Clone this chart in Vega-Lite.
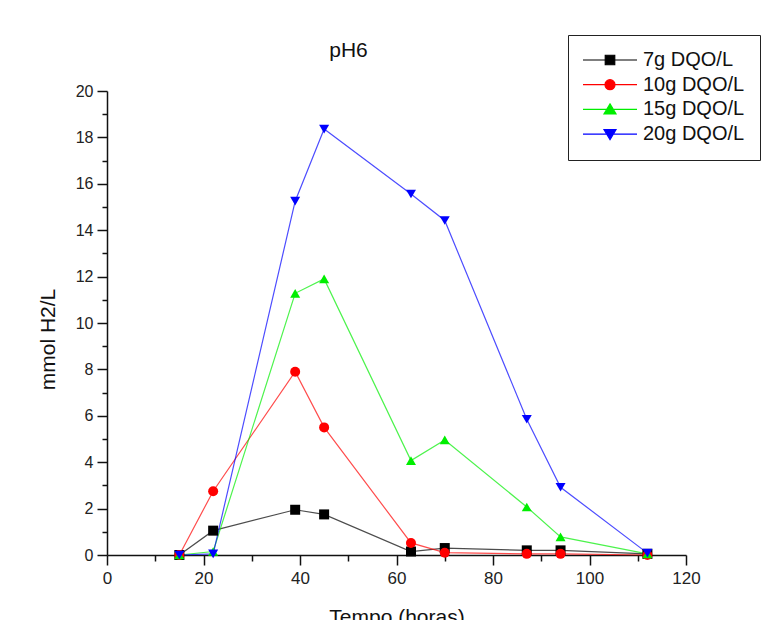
{
  "$schema": "https://vega.github.io/schema/vega-lite/v6.json",
  "autosize": "none",
  "width": 579,
  "height": 464,
  "padding": {"left": 107, "top": 91, "right": 83, "bottom": 65},
  "background": "white",
  "config": {
    "view": {"stroke": null},
    "font": "Liberation Sans"
  },
  "title": {
    "text": "pH6",
    "fontSize": 21,
    "fontWeight": "normal",
    "font": "Liberation Sans",
    "color": "#111",
    "dx": -48,
    "offset": -26
  },
  "data": {
    "values": [
      {"t": 15, "v": 0, "s": "7g DQO/L"},
      {"t": 22, "v": 1.05, "s": "7g DQO/L"},
      {"t": 39, "v": 1.95, "s": "7g DQO/L"},
      {"t": 45, "v": 1.75, "s": "7g DQO/L"},
      {"t": 63, "v": 0.15, "s": "7g DQO/L"},
      {"t": 70, "v": 0.3, "s": "7g DQO/L"},
      {"t": 87, "v": 0.2, "s": "7g DQO/L"},
      {"t": 94, "v": 0.2, "s": "7g DQO/L"},
      {"t": 112, "v": 0.05, "s": "7g DQO/L"},
      {"t": 15, "v": 0, "s": "10g DQO/L"},
      {"t": 22, "v": 2.75, "s": "10g DQO/L"},
      {"t": 39, "v": 7.9, "s": "10g DQO/L"},
      {"t": 45, "v": 5.5, "s": "10g DQO/L"},
      {"t": 63, "v": 0.52, "s": "10g DQO/L"},
      {"t": 70, "v": 0.1, "s": "10g DQO/L"},
      {"t": 87, "v": 0.05, "s": "10g DQO/L"},
      {"t": 94, "v": 0.05, "s": "10g DQO/L"},
      {"t": 112, "v": 0, "s": "10g DQO/L"},
      {"t": 15, "v": 0, "s": "15g DQO/L"},
      {"t": 22, "v": 0.15, "s": "15g DQO/L"},
      {"t": 39, "v": 11.28, "s": "15g DQO/L"},
      {"t": 45, "v": 11.9, "s": "15g DQO/L"},
      {"t": 63, "v": 4.07, "s": "15g DQO/L"},
      {"t": 70, "v": 4.96, "s": "15g DQO/L"},
      {"t": 87, "v": 2.07, "s": "15g DQO/L"},
      {"t": 94, "v": 0.78, "s": "15g DQO/L"},
      {"t": 112, "v": 0.05, "s": "15g DQO/L"},
      {"t": 15, "v": 0, "s": "20g DQO/L"},
      {"t": 22, "v": 0.05, "s": "20g DQO/L"},
      {"t": 39, "v": 15.25, "s": "20g DQO/L"},
      {"t": 45, "v": 18.36, "s": "20g DQO/L"},
      {"t": 63, "v": 15.56, "s": "20g DQO/L"},
      {"t": 70, "v": 14.42, "s": "20g DQO/L"},
      {"t": 87, "v": 5.85, "s": "20g DQO/L"},
      {"t": 94, "v": 2.92, "s": "20g DQO/L"},
      {"t": 112, "v": 0.08, "s": "20g DQO/L"}
    ]
  },
  "encoding": {
    "x": {
      "field": "t",
      "type": "quantitative",
      "scale": {"domain": [0, 120], "nice": false, "zero": false},
      "axis": {
        "title": "Tempo (horas)",
        "titleFontSize": 21,
        "titleFontWeight": "normal",
        "titleColor": "#111",
        "titlePadding": 20,
        "values": [0, 10, 20, 30, 40, 50, 60, 70, 80, 90, 100, 110, 120],
        "labelExpr": "datum.value % 20 === 0 ? datum.label : ''",
        "labelFontSize": 17,
        "labelColor": "#222",
        "labelPadding": 5,
        "labelFlush": false,
        "labelOverlap": false,
        "grid": false,
        "domainColor": "#111",
        "domainWidth": 1.5,
        "tickColor": "#111",
        "tickWidth": 1.5,
        "tickSize": {"condition": {"test": "datum.value % 20 === 0", "value": 10}, "value": 6}
      }
    },
    "y": {
      "field": "v",
      "type": "quantitative",
      "scale": {"domain": [0, 20], "nice": false},
      "axis": {
        "title": "mmol H2/L",
        "titleFontSize": 21,
        "titleFontWeight": "normal",
        "titleColor": "#111",
        "titleX": -59,
        "titleY": 248,
        "titleAngle": -90,
        "titleAlign": "center",
        "titleBaseline": "middle",
        "values": [0, 1, 2, 3, 4, 5, 6, 7, 8, 9, 10, 11, 12, 13, 14, 15, 16, 17, 18, 19, 20],
        "labelExpr": "datum.value % 2 === 0 ? datum.label : ''",
        "labelFontSize": 16,
        "labelColor": "#222",
        "labelPadding": 4,
        "labelFlush": false,
        "labelOverlap": false,
        "grid": false,
        "domainColor": "#111",
        "domainWidth": 1.5,
        "tickColor": "#111",
        "tickWidth": 1.5,
        "tickSize": {"condition": {"test": "datum.value % 2 === 0", "value": 10}, "value": 5}
      }
    }
  },
  "layer": [
    {
      "mark": {"type": "line", "strokeWidth": 1.2, "strokeOpacity": 0.7},
      "encoding": {
        "stroke": {
          "field": "s",
          "type": "nominal",
          "scale": {
            "domain": ["7g DQO/L", "10g DQO/L", "15g DQO/L", "20g DQO/L"],
            "range": ["#000000", "#ff0000", "#00ee00", "#0000ff"]
          },
          "legend": {
            "title": null,
            "orient": "none",
            "legendX": 461,
            "legendY": -56,
            "padding": 15,
            "strokeColor": "#222",
            "fillColor": "white",
            "labelFontSize": 20,
            "labelFont": "Liberation Sans",
            "labelColor": "#111",
            "symbolSize": 100,
            "symbolOffset": 17,
            "labelOffset": 23,
            "rowPadding": 4.7,
            "symbolStrokeWidth": 1.2,
            "encode": {
              "symbols": {
                "update": {
                  "shape": {"signal": "datum.value === '7g DQO/L' ? 'M-5.4,0H5.4M-0.95,-0.95H0.95V0.95H-0.95Z' : datum.value === '10g DQO/L' ? 'M-5.4,0H5.4M-1,0A1,1,0,1,1,1,0A1,1,0,1,1,-1,0Z' : datum.value === '15g DQO/L' ? 'M-5.4,0H5.4M0,-1.1L1.2,0.9L-1.2,0.9Z' : 'M-5.4,0H5.4M0,1.1L1.2,-0.9L-1.2,-0.9Z'"},
                  "fill": {"signal": "scale('stroke', datum.value)"},
                  "opacity": {"value": 1}
                }
              }
            }
          }
        }
      }
    },
    {
      "transform": [{"filter": "datum.s === '7g DQO/L'"}],
      "mark": {"type": "point", "shape": "square", "filled": true, "size": 100, "opacity": 1, "color": "#000000"}
    },
    {
      "transform": [{"filter": "datum.s === '10g DQO/L'"}],
      "mark": {"type": "point", "shape": "circle", "filled": true, "size": 100, "opacity": 1, "color": "#ff0000"}
    },
    {
      "transform": [{"filter": "datum.s === '15g DQO/L'"}],
      "mark": {"type": "point", "shape": "triangle-up", "filled": true, "size": 100, "opacity": 1, "color": "#00ee00"}
    },
    {
      "transform": [{"filter": "datum.s === '20g DQO/L'"}],
      "mark": {"type": "point", "shape": "triangle-down", "filled": true, "size": 100, "opacity": 1, "color": "#0000ff"}
    }
  ]
}
